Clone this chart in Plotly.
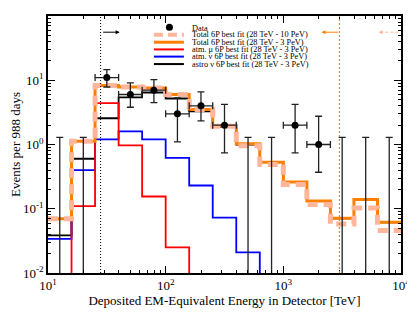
import numpy as np
import plotly.graph_objects as go

# log10(E / TeV) bin edges, 0.2 decade bins
bin_edges_log = [1.0, 1.2, 1.4, 1.6, 1.8, 2.0, 2.2, 2.4, 2.6, 2.8, 3.0, 3.2, 3.4, 3.6, 3.8, 4.0]

# model expectations per bin (events per 988 days)
total_10pev = [0.070, 1.12, 8.3, 7.85, 7.6, 6.0, 3.5, 1.93, 0.96, 0.49, 0.238, 0.116, 0.058, 0.103, 0.046]
total_3pev = [0.070, 1.12, 8.3, 7.85, 7.6, 6.0, 3.5, 1.97, 1.03, 0.53, 0.26, 0.132, 0.071, 0.139, 0.0615]
atm_mu = [0, 0.11, 4.4, 0.97, 0.155, 0.025, 0, 0, 0, 0, 0, 0, 0, 0, 0]
atm_nu = [0.034, 0.40, 1.2, 1.6, 1.2, 0.62, 0.23, 0.073, 0.021, 0, 0, 0, 0, 0, 0]
astro = [0.0386, 0.60, 2.56, 5.4, 6.45, 5.2, 3.27, 1.9, 1.0, 0.53, 0.26, 0.132, 0.071, 0.139, 0.0615]

# observed events and 68% intervals
data_counts = [0, 0, 11, 6, 7, 3, 4, 2, 0, 0, 2, 1, 0, 0, 0]
data_lo = [0, 0, 7.85, 3.8, 4.5, 1.1, 2.33, 0.74, 0, 0, 0.74, 0.37, 0, 0, 0]
data_hi = [1.29, 1.29, 14.6, 9.1, 10.2, 5.3, 6.6, 4.2, 1.29, 1.29, 4.2, 2.75, 1.29, 1.29, 1.29]

threshold_lo = 28.0     # TeV
cut_3pev = 3000.0
cut_10pev = 10000.0

ORANGE = "rgb(255,128,0)"
SALMON = "rgb(255,182,155)"
FONT = "Liberation Serif"

edges = 10 ** np.array(bin_edges_log)
centers_log = (np.array(bin_edges_log[:-1]) + np.array(bin_edges_log[1:])) / 2
centers = 10 ** centers_log


def step(vals):
    v = np.array(vals, dtype=float)
    v[v <= 0] = 1e-5  # empty bins drop below the axis
    return list(v) + [v[-1]]


fig = go.Figure()

# components first, totals on top
for vals, col, w in [(astro, "black", 1.8), (atm_nu, "blue", 1.8), (atm_mu, "red", 1.8)]:
    fig.add_trace(go.Scatter(x=edges, y=step(vals), mode="lines", line_shape="hv",
                             line=dict(color=col, width=w), showlegend=False))

fig.add_trace(go.Scatter(x=edges, y=step(total_3pev), mode="lines", line_shape="hv",
                         line=dict(color=ORANGE, width=3), showlegend=False))
fig.add_trace(go.Scatter(x=edges, y=step(total_10pev), mode="lines", line_shape="hv",
                         line=dict(color=SALMON, width=5, dash="10px,6px"), showlegend=False))

# data
counts = np.array(data_counts, dtype=float)
lo = np.array(data_lo)
hi = np.array(data_hi)
has = counts > 0
xe_p = 10 ** (centers_log + 0.1) - centers
xe_m = centers - 10 ** (centers_log - 0.1)

fig.add_trace(go.Scatter(
    x=centers[~has], y=hi[~has], mode="markers",
    marker=dict(size=1, color="rgba(0,0,0,0)"),
    error_y=dict(type="data", symmetric=False, array=np.zeros((~has).sum()),
                 arrayminus=hi[~has], color="#222", thickness=1.3, width=3.5),
    showlegend=False))

fig.add_trace(go.Scatter(
    x=centers[has], y=counts[has], mode="markers",
    marker=dict(size=7, color="black"),
    error_y=dict(type="data", symmetric=False, array=hi[has] - counts[has],
                 arrayminus=counts[has] - lo[has], color="#222", thickness=1.3, width=3.5),
    error_x=dict(type="data", symmetric=False, array=xe_p[has], arrayminus=xe_m[has],
                 color="#222", thickness=1.3, width=3.5),
    showlegend=False))

# threshold lines and arrows
fig.add_shape(type="line", xref="x", yref="paper", x0=threshold_lo, x1=threshold_lo, y0=0, y1=1,
              line=dict(color="black", width=1, dash="1px,2px"))
fig.add_shape(type="line", xref="x", yref="paper", x0=cut_3pev, x1=cut_3pev, y0=0, y1=1,
              line=dict(color=ORANGE, width=1.2, dash="2px,2px"))
arrow_y = 0.937
fig.add_annotation(x=np.log10(threshold_lo * 1.45), y=arrow_y, xref="x", yref="paper",
                   ax=-18, ay=0, showarrow=True, arrowhead=2, arrowsize=0.8, arrowwidth=1,
                   arrowcolor="black", text="")
fig.add_annotation(x=np.log10(cut_3pev / 1.42), y=arrow_y, xref="x", yref="paper",
                   ax=18, ay=0, showarrow=True, arrowhead=2, arrowsize=0.8, arrowwidth=1,
                   arrowcolor=ORANGE, text="")
fig.add_shape(type="line", xref="x", yref="paper", x0=cut_10pev / 1.5, x1=cut_10pev / 1.05,
              y0=arrow_y, y1=arrow_y, line=dict(color=SALMON, width=1, dash="3px,2px"))
fig.add_annotation(x=np.log10(cut_10pev / 1.55), y=arrow_y, xref="x", yref="paper",
                   ax=5, ay=0, showarrow=True, arrowhead=2, arrowsize=0.8, arrowwidth=1,
                   arrowcolor=SALMON, text="")

# hand-made legend
legend_rows = [
    ("Data", None),
    ("Total 6P best fit (28 TeV - 10 PeV)", dict(color=SALMON, width=4, dash="9px,5px")),
    ("Total 6P best fit (28 TeV - 3 PeV)", dict(color=ORANGE, width=3)),
    ("atm. \u03bc 6P best fit (28 TeV - 3 PeV)", dict(color="red", width=2)),
    ("atm. \u03bd 6P best fit (28 TeV - 3 PeV)", dict(color="blue", width=2)),
    ("astro \u03bd 6P best fit (28 TeV - 3 PeV)", dict(color="black", width=2)),
]
row_y = [0.952, 0.927, 0.898, 0.870, 0.842, 0.813]
for (label, style), yy in zip(legend_rows, row_y):
    if style is None:
        fig.add_shape(type="circle", xref="paper", yref="paper", xsizemode="pixel", ysizemode="pixel",
                      xanchor=0.344, yanchor=yy + 0.004, x0=-3.5, x1=3.5, y0=-3.5, y1=3.5,
                      fillcolor="black", line=dict(color="black", width=0))
    else:
        fig.add_shape(type="line", xref="paper", yref="paper", x0=0.300, x1=0.385, y0=yy, y1=yy,
                      line=style)
    fig.add_annotation(x=0.402, y=yy, xref="paper", yref="paper", text=label, showarrow=False,
                       xanchor="left", yanchor="middle", font=dict(family=FONT, size=8.3, color="black"))

minor_x = [m * 10 ** d for d in range(1, 4) for m in range(2, 10)]
minor_y = [m * 10 ** d for d in range(-2, 2) for m in range(2, 10)]

axis_common = dict(type="log", showgrid=False, zeroline=False, showline=True, linecolor="black",
                   linewidth=1.5, mirror="allticks", ticks="inside", ticklen=7, tickwidth=1,
                   tickcolor="black", automargin=False,
                   tickfont=dict(family=FONT, size=13, color="black"))

fig.update_xaxes(range=[1, 4], tickvals=[10, 100, 1000, 10000],
                 ticktext=["10<sup>1</sup>", "10<sup>2</sup>", "10<sup>3</sup>", "10<sup>4</sup>"],
                 minor=dict(tickvals=minor_x, ticks="inside", ticklen=3.5, tickcolor="black"),
                 title=dict(text="Deposited EM-Equivalent Energy in Detector [TeV]",
                            font=dict(family=FONT, size=13, color="black"), standoff=4),
                 **axis_common)
fig.update_yaxes(range=[-2, 2], tickvals=[0.01, 0.1, 1, 10, 100],
                 ticktext=["10<sup>-2</sup>", "10<sup>-1</sup>", "10<sup>0</sup>", "10<sup>1</sup>", "10<sup>2</sup>"],
                 minor=dict(tickvals=minor_y, ticks="inside", ticklen=3.5, tickcolor="black"),
                 title=dict(text="Events per 988 days", font=dict(family=FONT, size=13, color="black"),
                            standoff=2),
                 **axis_common)

# the page body adds an 8px margin, so the figure is shrunk by that much
fig.update_layout(width=407, height=313, margin=dict(l=40, r=14, t=8, b=48),
                  plot_bgcolor="white", paper_bgcolor="white", showlegend=False)

fig.write_html("out.html")
